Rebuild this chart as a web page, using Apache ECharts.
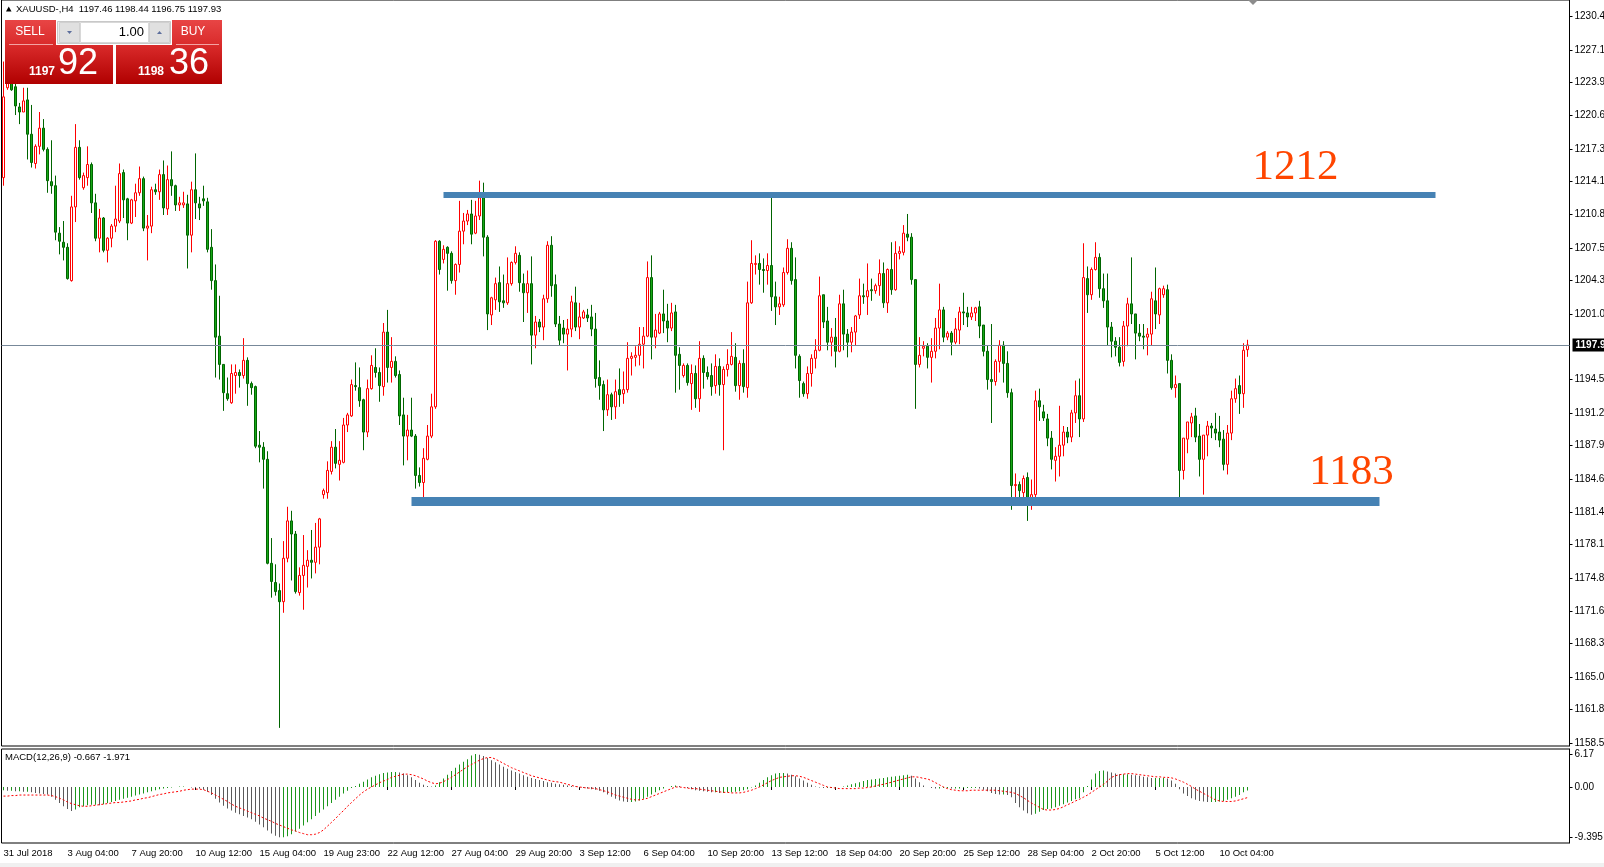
<!DOCTYPE html>
<html>
<head>
<meta charset="utf-8">
<script src="https://cdn.jsdelivr.net/npm/echarts@6/dist/echarts.min.js"></script>
<style>
html,body{margin:0;padding:0;background:#fff;}
#chart{width:1604px;height:867px;}
</style>
</head>
<body>
<div id="chart"></div>
<script>
// ---------------- DATA ----------------
const priceTicks = [1230.45,1227.15,1223.90,1220.65,1217.35,1214.10,1210.85,1207.55,1204.30,1201.00,1194.50,1191.20,1187.95,1184.65,1181.40,1178.15,1174.85,1171.60,1168.35,1165.05,1161.80,1158.50];
const macdTicks = [6.17, 0, -9.395];
const xTickLabels = ['31 Jul 2018','3 Aug 04:00','7 Aug 20:00','10 Aug 12:00','15 Aug 04:00','19 Aug 23:00','22 Aug 12:00','27 Aug 04:00','29 Aug 20:00','3 Sep 12:00','6 Sep 04:00','10 Sep 20:00','13 Sep 12:00','18 Sep 04:00','20 Sep 20:00','25 Sep 12:00','28 Sep 04:00','2 Oct 20:00','5 Oct 12:00','10 Oct 04:00'];

const opens = [
1214.5,1223.4,1226.3,1223.5,1221.5,1221.0,1222.2,1218.8,1215.9,1217.6,
1219.4,1217.3,1214.1,1213.7,1209.0,1208.1,1207.6,1204.3,1211.6,1217.5,
1213.5,1214.5,1215.8,1212.0,1208.5,1210.5,1207.3,1208.5,1209.7,1210.2,
1215.0,1212.4,1210.0,1212.2,1213.0,1214.4,1209.5,1209.7,1213.3,1213.1,
1214.8,1211.4,1214.3,1213.7,1211.8,1211.8,1211.9,1208.8,1213.3,1211.9,
1212.4,1212.1,1207.6,1204.3,1198.8,1196.0,1193.1,1192.2,1194.9,1195.2,
1194.9,1196.4,1194.1,1193.8,1188.0,1187.8,1186.6,1176.3,1174.4,1173.6,
1172.5,1176.8,1180.5,1179.2,1173.4,1175.1,1176.0,1176.6,1176.4,1177.9,
1183.1,1183.3,1185.4,1187.8,1186.1,1186.3,1190.0,1190.9,1193.9,1193.7,
1192.5,1189.3,1193.6,1195.7,1195.2,1193.8,1199.2,1195.7,1196.3,1195.0,
1191.0,1188.9,1189.5,1188.9,1185.0,1184.3,1186.6,1188.9,1191.8,1208.2,
1206.4,1207.6,1207.0,1204.3,1205.9,1209.2,1210.2,1210.9,1209.0,1210.7,
1212.5,1208.6,1200.9,1202.4,1204.1,1202.3,1202.1,1204.0,1206.1,1206.8,
1204.0,1203.1,1204.0,1198.9,1200.2,1199.7,1202.5,1207.8,1203.9,1200.0,
1199.6,1199.0,1199.5,1202.1,1199.7,1200.6,1200.9,1200.7,1199.5,1194.7,
1194.0,1191.5,1193.0,1191.8,1193.5,1193.1,1193.5,1196.6,1196.7,1196.9,
1198.0,1198.8,1204.6,1198.7,1199.1,1201.0,1200.3,1199.6,1201.2,1197.0,
1194.9,1195.9,1194.1,1195.1,1192.6,1196.6,1195.2,1194.9,1193.9,1195.8,
1194.0,1195.5,1196.0,1196.7,1193.9,1196.1,1193.7,1202.1,1205.9,1206.0,
1205.4,1205.3,1205.8,1202.7,1201.7,1201.9,1205.1,1207.5,1204.4,1196.8,
1194.1,1193.1,1195.1,1196.6,1197.4,1202.9,1200.3,1198.2,1198.7,1197.3,
1202.0,1199.0,1198.2,1199.2,1200.9,1202.8,1202.7,1203.4,1203.3,1203.8,
1205.0,1202.1,1205.4,1203.4,1207.0,1207.1,1208.9,1208.6,1204.4,1196.0,
1197.6,1197.8,1196.7,1197.3,1199.6,1201.4,1198.7,1199.1,1198.2,1199.4,
1201.2,1201.1,1200.7,1201.1,1201.7,1199.9,1197.3,1194.5,1194.3,1196.3,
1197.9,1196.1,1193.2,1184.0,1184.1,1183.3,1184.8,1182.5,1183.1,1192.4,
1191.3,1190.6,1188.7,1186.5,1186.9,1188.0,1189.3,1188.8,1191.2,1192.9,
1190.6,1204.5,1202.9,1205.4,1206.6,1203.5,1202.3,1199.7,1198.3,1197.7,
1196.3,1199.8,1202.0,1201.0,1199.1,1198.8,1198.7,1199.0,1202.3,1200.9,
1202.9,1203.4,1196.4,1193.7,1194.1,1185.5,1188.6,1190.2,1190.9,1188.9,
1186.6,1189.0,1189.9,1189.6,1189.3,1188.6,1186.1,1189.2,1192.6,1193.9,
1193.1,1197.46];
const highs = [
1226.0,1228.0,1227.0,1224.0,1221.9,1223.4,1223.4,1221.7,1217.8,1221.0,
1220.3,1217.5,1218.2,1214.7,1209.6,1210.2,1208.0,1212.7,1219.8,1218.2,
1215.0,1217.6,1216.0,1212.9,1211.4,1210.6,1208.6,1209.9,1213.7,1215.9,
1215.3,1212.5,1212.4,1213.9,1215.6,1214.6,1210.8,1213.6,1213.9,1215.3,
1216.2,1215.7,1217.1,1213.8,1212.6,1213.1,1212.8,1214.1,1216.9,1212.6,
1213.7,1212.5,1209.4,1205.9,1202.8,1196.0,1194.7,1196.0,1196.0,1195.5,
1198.6,1196.7,1194.3,1193.9,1189.4,1188.3,1187.4,1178.8,1176.2,1174.3,
1178.5,1181.9,1181.5,1179.5,1175.9,1179.1,1177.6,1179.6,1180.3,1180.8,
1183.7,1186.4,1188.4,1189.6,1188.4,1190.7,1191.2,1194.5,1196.2,1195.7,
1192.6,1194.5,1196.9,1197.6,1195.7,1200.1,1201.4,1198.7,1196.8,1195.4,
1192.7,1191.0,1192.7,1189.1,1185.8,1187.7,1190.0,1193.1,1208.3,1208.3,
1207.8,1207.7,1207.2,1206.0,1212.2,1211.0,1211.3,1212.3,1212.2,1214.2,
1214.0,1208.8,1202.7,1204.6,1205.7,1204.9,1206.6,1206.2,1207.7,1207.1,
1205.0,1205.3,1206.7,1200.8,1200.5,1202.9,1208.2,1208.7,1204.9,1200.8,
1200.4,1200.5,1202.8,1203.7,1202.1,1201.4,1201.5,1201.9,1201.1,1196.4,
1194.4,1194.5,1193.2,1194.5,1195.6,1195.3,1198.2,1197.2,1197.8,1199.7,
1199.7,1206.2,1206.8,1201.0,1201.2,1203.4,1202.0,1202.1,1201.9,1197.7,
1196.1,1196.1,1196.0,1195.9,1198.3,1196.9,1195.8,1196.1,1197.0,1196.6,
1195.8,1197.5,1199.2,1198.1,1196.4,1197.5,1204.2,1208.3,1206.8,1207.0,
1206.5,1207.0,1212.5,1204.2,1202.7,1205.6,1208.4,1208.1,1206.6,1197.0,
1194.3,1195.8,1197.0,1198.5,1204.7,1202.9,1201.7,1199.6,1200.6,1202.9,
1203.4,1199.5,1199.7,1200.9,1204.5,1204.0,1206.0,1204.5,1204.0,1206.4,
1206.1,1205.5,1208.1,1208.2,1207.7,1209.8,1210.9,1209.0,1204.4,1198.7,
1198.3,1198.1,1198.6,1200.6,1204.0,1201.7,1199.3,1199.3,1200.6,1201.7,
1203.1,1201.7,1201.7,1201.7,1202.3,1199.9,1197.9,1200.0,1196.5,1198.4,
1198.3,1197.3,1193.6,1185.2,1184.4,1185.0,1185.3,1184.6,1193.4,1193.6,
1192.0,1191.1,1189.4,1187.8,1191.9,1189.9,1189.8,1191.5,1194.4,1194.6,
1208.0,1205.7,1205.6,1208.1,1207.0,1205.0,1205.0,1200.2,1198.7,1198.7,
1200.3,1202.6,1206.6,1201.0,1200.0,1200.0,1199.6,1203.2,1205.6,1203.6,
1203.8,1203.9,1197.0,1194.9,1194.1,1188.7,1190.3,1191.2,1191.7,1190.1,
1189.0,1190.4,1190.2,1191.2,1190.9,1189.5,1190.0,1193.4,1194.6,1194.9,
1198.1,1198.44];
const lows = [
1213.7,1223.2,1223.1,1220.7,1219.8,1221.0,1216.3,1215.5,1215.4,1216.8,
1217.1,1213.0,1212.9,1208.3,1206.9,1206.3,1204.4,1204.2,1210.1,1214.3,
1213.3,1213.7,1211.0,1208.2,1207.1,1207.1,1206.1,1207.6,1209.1,1210.0,
1210.5,1208.3,1209.9,1210.6,1212.7,1209.2,1206.3,1209.0,1212.8,1212.3,
1210.8,1210.8,1212.7,1211.2,1211.2,1211.5,1205.5,1207.1,1210.4,1210.3,
1211.7,1207.1,1203.4,1194.7,1194.5,1191.4,1192.4,1192.1,1193.1,1193.7,
1194.6,1191.9,1193.0,1187.7,1186.3,1183.7,1176.2,1172.9,1173.1,1160.0,
1171.4,1176.4,1174.6,1173.3,1173.1,1171.7,1173.9,1174.8,1175.3,1176.2,
1182.7,1182.7,1185.1,1185.7,1184.5,1186.2,1189.3,1190.8,1193.4,1191.8,
1187.5,1188.8,1193.5,1194.7,1192.3,1192.9,1194.2,1194.2,1194.7,1190.0,
1186.0,1186.5,1188.8,1183.7,1183.9,1182.8,1186.5,1188.7,1191.6,1204.9,
1206.0,1203.3,1204.0,1202.9,1205.1,1207.9,1209.8,1207.9,1208.9,1210.3,
1206.7,1199.4,1199.9,1201.4,1201.2,1201.6,1201.9,1203.8,1205.9,1203.2,
1200.2,1201.1,1196.0,1197.6,1199.2,1198.4,1202.1,1202.7,1199.7,1197.9,
1198.1,1195.4,1198.7,1199.3,1198.5,1200.5,1200.2,1198.8,1193.7,1192.5,
1189.4,1190.9,1190.5,1190.6,1191.8,1192.1,1193.2,1194.9,1195.8,1195.9,
1195.6,1198.7,1196.5,1197.6,1199.0,1199.1,1198.2,1199.3,1193.2,1193.5,
1194.7,1193.9,1191.5,1191.7,1191.3,1193.6,1194.5,1192.9,1193.1,1192.9,
1187.5,1194.8,1195.9,1193.3,1192.5,1193.2,1192.7,1202.0,1204.9,1203.9,
1203.1,1203.9,1201.3,1199.9,1200.9,1201.7,1204.9,1203.9,1195.6,1192.7,
1192.8,1192.6,1193.8,1195.6,1197.3,1199.6,1197.4,1196.8,1195.7,1197.2,
1197.4,1196.7,1197.2,1197.9,1200.5,1202.0,1200.9,1202.3,1203.0,1202.8,
1201.6,1201.1,1202.9,1203.3,1206.4,1206.8,1208.2,1203.9,1191.6,1195.7,
1196.8,1195.6,1194.2,1196.6,1197.5,1198.2,1198.4,1196.9,1198.0,1198.0,
1199.9,1199.7,1200.4,1200.3,1198.6,1196.8,1193.5,1190.2,1193.9,1195.2,
1194.2,1192.7,1181.6,1182.7,1182.1,1182.5,1180.5,1181.6,1182.2,1190.4,
1190.4,1187.9,1185.6,1184.4,1184.9,1186.9,1188.2,1188.3,1190.2,1188.8,
1190.3,1201.1,1202.4,1205.3,1202.6,1201.6,1197.9,1196.7,1196.8,1195.8,
1195.8,1197.8,1200.0,1196.5,1198.3,1197.5,1196.9,1197.9,1199.5,1200.0,
1202.6,1195.1,1193.5,1192.7,1182.7,1184.6,1187.2,1188.8,1188.3,1184.9,
1183.1,1186.9,1188.7,1188.5,1187.8,1185.5,1185.1,1188.5,1192.2,1191.1,
1191.7,1196.75];
const closes = [
1222.5,1226.5,1223.2,1221.6,1221.0,1222.1,1218.8,1216.0,1217.6,1219.4,
1217.3,1214.2,1213.7,1209.1,1208.2,1207.6,1204.5,1211.6,1217.5,1214.5,
1214.7,1215.8,1212.0,1208.5,1210.5,1207.3,1208.5,1209.7,1210.4,1214.9,
1212.3,1210.0,1212.3,1213.0,1214.4,1209.5,1209.7,1213.3,1213.1,1214.8,
1211.5,1214.3,1213.7,1211.8,1212.0,1212.0,1208.8,1213.3,1212.0,1211.5,
1212.2,1207.4,1204.3,1198.7,1196.0,1193.2,1192.6,1195.1,1195.2,1194.9,
1196.4,1194.1,1193.7,1187.9,1187.8,1186.6,1176.3,1174.5,1173.5,1172.5,
1176.8,1180.5,1179.2,1173.5,1175.1,1176.1,1176.6,1176.4,1177.9,1180.7,
1183.5,1185.5,1187.8,1186.2,1186.5,1190.0,1191.0,1194.0,1193.8,1192.4,
1189.3,1193.6,1195.9,1195.2,1193.9,1199.2,1195.7,1196.3,1194.9,1190.9,
1188.9,1189.5,1188.9,1185.0,1184.3,1186.7,1188.9,1191.8,1208.2,1205.4,
1207.4,1207.0,1204.3,1205.9,1209.2,1210.2,1210.9,1208.9,1210.7,1212.5,
1208.6,1201.0,1202.6,1204.0,1202.2,1202.1,1204.0,1206.1,1207.0,1204.1,
1203.1,1204.0,1198.9,1200.2,1199.7,1202.5,1207.8,1203.8,1200.0,1198.4,
1199.0,1199.5,1202.2,1199.7,1200.7,1201.2,1200.6,1199.5,1194.6,1193.9,
1191.5,1193.0,1191.8,1193.3,1193.0,1193.5,1196.6,1196.8,1196.9,1198.0,
1198.8,1204.6,1198.7,1199.4,1201.0,1200.3,1199.6,1201.1,1196.9,1195.9,
1195.9,1194.2,1195.1,1192.6,1196.6,1195.2,1194.8,1193.8,1195.8,1194.0,
1195.5,1196.0,1196.8,1193.9,1196.1,1193.8,1202.1,1206.0,1206.0,1205.4,
1205.3,1205.8,1202.7,1201.7,1202.0,1205.1,1207.5,1204.3,1196.9,1194.4,
1193.1,1195.1,1196.6,1197.4,1202.8,1200.2,1198.2,1198.7,1197.3,1202.0,
1199.0,1198.2,1199.2,1200.8,1202.8,1202.7,1203.3,1203.3,1203.8,1205.0,
1202.1,1205.4,1203.4,1207.0,1207.2,1209.0,1208.6,1204.4,1196.0,1196.9,
1197.8,1196.7,1197.3,1199.6,1201.4,1198.7,1199.1,1198.2,1199.5,1201.2,
1201.1,1200.7,1201.1,1201.6,1199.8,1197.3,1194.5,1194.3,1196.3,1197.9,
1196.1,1193.2,1184.0,1184.1,1183.5,1184.7,1182.5,1183.1,1192.4,1191.8,
1190.7,1188.7,1186.6,1186.9,1188.0,1189.3,1188.8,1191.2,1192.9,1190.6,
1204.6,1202.9,1205.4,1206.6,1203.5,1202.3,1199.7,1198.3,1197.7,1196.2,
1199.8,1202.0,1201.0,1199.1,1198.8,1198.7,1199.0,1202.5,1201.0,1203.5,
1203.5,1196.4,1193.7,1194.0,1185.5,1188.7,1190.3,1190.8,1188.8,1186.6,
1189.0,1189.9,1189.7,1189.2,1188.5,1186.1,1189.2,1192.6,1193.6,1193.1,
1197.4,1197.93];

const macdHist = [
-0.6,-0.7,-0.7,-0.8,-0.8,-0.9,-0.9,-1.0,-1.1,-1.2,
-1.3,-1.4,-1.8,-2.4,-3.0,-3.6,-4.1,-4.5,-4.2,-3.8,
-3.6,-3.4,-3.3,-3.3,-3.4,-3.2,-3.0,-2.8,-2.6,-2.4,
-2.2,-2.0,-1.8,-1.6,-1.4,-1.2,-1.0,-0.8,-0.6,-0.4,
-0.3,-0.2,-0.1,0.0,0.1,0.1,0.0,-0.1,-0.2,-0.3,
-0.5,-0.9,-1.5,-2.2,-2.9,-3.5,-4.0,-4.4,-4.8,-5.1,
-5.4,-5.7,-6.0,-6.5,-7.0,-7.5,-8.1,-8.7,-9.1,-9.4,
-9.395,-9.2,-8.8,-8.3,-7.8,-7.2,-6.6,-6.0,-5.4,-4.8,
-4.2,-3.6,-3.0,-2.4,-1.8,-1.2,-0.7,-0.2,0.2,0.6,
1.0,1.4,1.8,2.1,2.4,2.6,2.7,2.8,2.8,2.7,
2.5,2.2,1.8,1.3,0.8,0.4,0.2,0.1,0.3,0.9,
1.6,2.3,3.0,3.6,4.2,4.7,5.2,5.9,6.17,6.0,
5.8,5.4,5.0,4.6,4.2,3.8,3.4,3.1,2.8,2.5,
2.2,1.9,1.7,1.5,1.3,1.1,0.9,0.8,0.6,0.5,
0.4,0.3,0.2,0.1,-0.1,-0.2,-0.3,-0.4,-0.5,-0.7,
-1.0,-1.4,-1.8,-2.2,-2.5,-2.7,-2.8,-2.8,-2.7,-2.5,
-2.2,-1.8,-1.4,-1.0,-0.6,-0.3,0.0,0.2,0.3,0.2,
0.0,-0.2,-0.4,-0.6,-0.7,-0.8,-0.9,-1.0,-1.0,-1.1,
-1.1,-1.0,-1.0,-0.9,-0.8,-0.6,-0.4,-0.1,0.3,0.8,
1.3,1.8,2.2,2.5,2.6,2.6,2.5,2.3,2.0,1.6,
1.2,0.8,0.4,0.1,-0.1,-0.2,-0.2,-0.2,-0.1,0.0,
0.1,0.3,0.5,0.7,0.9,1.1,1.3,1.4,1.5,1.6,
1.7,1.8,1.9,2.0,2.1,2.2,2.3,2.1,1.6,0.9,
0.3,0.0,-0.2,-0.3,-0.3,-0.2,-0.2,-0.3,-0.3,-0.3,
-0.2,-0.2,-0.2,-0.2,-0.3,-0.5,-0.8,-1.1,-1.3,-1.4,
-1.4,-1.5,-1.9,-3.0,-3.8,-4.4,-4.9,-5.2,-5.0,-4.6,
-4.3,-4.1,-4.0,-3.8,-3.5,-3.2,-2.9,-2.6,-2.3,-2.1,
-1.0,0.2,1.4,2.5,3.0,3.1,2.9,2.7,2.5,2.4,
2.4,2.4,2.3,2.2,2.1,1.9,1.8,1.7,1.7,1.7,
1.7,1.6,1.2,0.6,-0.4,-1.2,-1.7,-2.1,-2.4,-2.6,
-2.7,-2.8,-2.8,-2.8,-2.7,-2.6,-2.4,-2.1,-1.8,-1.5,
-1.0,-0.667];
const macdSignal = [
-1.7,-1.7,-1.6,-1.6,-1.5,-1.5,-1.5,-1.5,-1.5,-1.5,
-1.5,-1.5,-1.6,-1.8,-2.1,-2.4,-2.8,-3.1,-3.3,-3.5,
-3.6,-3.6,-3.5,-3.4,-3.3,-3.2,-3.1,-3.0,-2.9,-2.9,
-2.8,-2.7,-2.6,-2.4,-2.3,-2.1,-2.0,-1.8,-1.6,-1.4,
-1.3,-1.1,-1.0,-0.9,-0.8,-0.6,-0.5,-0.4,-0.4,-0.4,
-0.5,-0.8,-1.1,-1.5,-1.9,-2.3,-2.7,-3.2,-3.6,-3.9,
-4.2,-4.5,-4.8,-5.1,-5.4,-5.8,-6.1,-6.4,-6.8,-7.1,
-7.4,-7.7,-8.0,-8.2,-8.5,-8.7,-8.9,-8.9,-8.8,-8.5,
-8.0,-7.3,-6.6,-5.9,-5.1,-4.4,-3.6,-2.9,-2.2,-1.5,
-0.9,-0.4,0.0,0.4,0.8,1.1,1.4,1.8,2.0,2.2,
2.4,2.4,2.3,2.1,1.8,1.5,1.1,0.8,0.6,0.7,
1.0,1.4,1.8,2.3,2.8,3.3,3.8,4.2,4.6,5.0,
5.3,5.5,5.5,5.2,4.8,4.4,4.0,3.6,3.3,3.0,
2.7,2.4,2.1,1.9,1.7,1.5,1.3,1.1,1.0,0.9,
0.7,0.5,0.3,0.1,0.0,-0.1,-0.2,-0.2,-0.3,-0.5,
-0.7,-0.9,-1.2,-1.5,-1.7,-1.9,-2.1,-2.3,-2.4,-2.4,
-2.3,-2.1,-1.8,-1.5,-1.2,-0.9,-0.6,-0.3,0.0,0.0,
-0.1,-0.2,-0.3,-0.3,-0.4,-0.5,-0.6,-0.7,-0.8,-0.9,
-1.0,-1.0,-1.1,-1.1,-1.1,-1.0,-0.8,-0.6,-0.3,0.0,
0.4,0.8,1.2,1.5,1.8,1.9,2.0,2.1,2.1,2.0,
1.8,1.5,1.2,0.9,0.6,0.3,0.0,-0.1,-0.2,-0.3,
-0.3,-0.3,-0.3,-0.3,-0.2,-0.2,-0.1,0.0,0.2,0.4,
0.5,0.7,0.9,1.1,1.3,1.5,1.7,1.9,1.9,1.8,
1.6,1.5,1.2,0.8,0.4,0.0,-0.3,-0.5,-0.6,-0.7,
-0.7,-0.7,-0.6,-0.6,-0.6,-0.6,-0.6,-0.6,-0.6,-0.7,
-0.8,-0.9,-1.0,-1.2,-1.6,-2.0,-2.5,-3.0,-3.4,-3.8,
-4.2,-4.3,-4.3,-4.2,-4.0,-3.7,-3.3,-3.0,-2.6,-2.3,
-1.9,-1.5,-1.0,-0.5,0.0,0.5,1.1,1.8,2.1,2.3,
2.4,2.5,2.5,2.4,2.3,2.2,2.1,2.0,1.9,1.9,
1.8,1.8,1.7,1.5,1.2,0.9,0.5,0.1,-0.4,-0.8,
-1.2,-1.6,-2.0,-2.4,-2.6,-2.7,-2.7,-2.7,-2.6,-2.4,
-2.2,-1.971];

const bidPrice = 1197.93;
const resistanceLevel = 1212.78;
const supportLevel = 1182.42;
const resistanceSpan = [110, 358];
const supportSpan = [102, 344];
const levelLabels = [
  {name: '1212', coord: [323, 1215.5]},
  {name: '1183', coord: [337, 1185.25]}
];

// ---------------- BUILD ----------------
const N_SLOTS = 392;
const TICK_STEP = 16;
const categories = [];
for (let i = 0; i < N_SLOTS; i++) {
  const k = i / TICK_STEP;
  categories.push(i % TICK_STEP === 0 && k < xTickLabels.length ? xTickLabels[k] : '');
}
const candleData = opens.map((o, i) => [o, closes[i], lows[i], highs[i]]);
const histData = macdHist.map((v, i) => ({
  value: v,
  itemStyle: {color: (i > 0 && v < macdHist[i - 1]) ? '#5a5a5a' : '#1c961c'}
}));

const FONT = '"Liberation Sans", Arial, sans-serif';
const chart = echarts.init(document.getElementById('chart'), null, {renderer: 'canvas'});

const option = {
  animation: false,
  backgroundColor: '#ffffff',
  grid: [
    {left: 1.5, top: 0, width: 1568, height: 746, show: true, borderColor: '#000', borderWidth: 1, backgroundColor: 'transparent', outerBoundsMode: 'none', containLabel: false},
    {left: 1.5, top: 749, width: 1568, height: 94, show: true, borderColor: '#000', borderWidth: 1, backgroundColor: 'transparent', outerBoundsMode: 'none', containLabel: false}
  ],
  xAxis: [
    {type: 'category', gridIndex: 0, data: categories, boundaryGap: true,
     axisLine: {show: false}, axisTick: {show: false}, axisLabel: {show: false}, splitLine: {show: false}},
    {type: 'category', gridIndex: 1, data: categories, boundaryGap: true,
     axisLine: {show: false},
     axisTick: {show: true, alignWithLabel: true, length: 3, interval: (idx, val) => val !== '', lineStyle: {color: '#000'}},
     axisLabel: {show: true, interval: (idx, val) => val !== '', align: 'left', margin: 5,
                 fontFamily: FONT, fontSize: 9.5, color: '#000'},
     splitLine: {show: false}}
  ],
  yAxis: [
    {type: 'value', gridIndex: 0, position: 'right', min: 1158.205, max: 1232.094,
     axisLine: {show: true, lineStyle: {color: '#000'}},
     axisTick: {show: true, length: 3, customValues: priceTicks, lineStyle: {color: '#000'}},
     axisLabel: {show: true, customValues: priceTicks, formatter: v => v.toFixed(2), margin: 5,
                 fontFamily: FONT, fontSize: 10, color: '#000'},
     splitLine: {show: false}},
    {type: 'value', gridIndex: 1, position: 'right', min: -10.45, max: 7.09,
     axisLine: {show: true, lineStyle: {color: '#000'}},
     axisTick: {show: true, length: 3, customValues: macdTicks, lineStyle: {color: '#000'}},
     axisLabel: {show: true, customValues: macdTicks, formatter: v => (v === 0 ? '0.00' : String(v)), margin: 5,
                 fontFamily: FONT, fontSize: 10, color: '#000'},
     splitLine: {show: false}}
  ],
  series: [
    {
      type: 'candlestick', xAxisIndex: 0, yAxisIndex: 0, data: candleData,
      barWidth: 2,
      itemStyle: {color: '#ffffff', color0: '#16a816', borderColor: '#ff0000', borderColor0: '#006400', borderWidth: 1},
      markLine: {
        silent: true, symbol: ['none', 'none'], animation: false,
        data: [
          {yAxis: bidPrice, lineStyle: {color: '#778899', width: 1, type: 'solid'},
           label: {show: true, position: 'end', distance: 3, formatter: bidPrice.toFixed(2),
                   backgroundColor: '#000', color: '#fff', fontFamily: FONT, fontSize: 10, fontWeight: 'bold', padding: [2, 3, 1, 3]}},
          [{coord: [resistanceSpan[0], resistanceLevel], lineStyle: {color: '#4682b4', width: 6, type: 'solid'}, label: {show: false}},
           {coord: [resistanceSpan[1], resistanceLevel]}],
          [{coord: [supportSpan[0], supportLevel], lineStyle: {color: '#4682b4', width: 9, type: 'solid'}, label: {show: false}},
           {coord: [supportSpan[1], supportLevel]}]
        ]
      },
      markPoint: {
        silent: true, symbol: 'circle', symbolSize: 0, animation: false,
        data: levelLabels.map(d => ({name: d.name, coord: d.coord})),
        label: {show: true, position: 'inside', formatter: '{b}', fontFamily: '"Liberation Serif", "Times New Roman", serif',
                fontSize: 43, color: '#ff4500'}
      }
    },
    {
      type: 'bar', xAxisIndex: 1, yAxisIndex: 1, data: histData, barWidth: 1, silent: true
    },
    {
      type: 'line', xAxisIndex: 1, yAxisIndex: 1, data: macdSignal, symbol: 'none', silent: true,
      lineStyle: {color: '#ff0000', width: 1, type: [2, 2]}
    }
  ],
  graphic: [
    // header
    {type: 'polygon', shape: {points: [[6, 11.5], [11.5, 11.5], [8.75, 6.5]]}, style: {fill: '#000'}, z: 100},
    {type: 'text', x: 16, y: 9, z: 100, style: {text: 'XAUUSD-,H4  1197.46 1198.44 1196.75 1197.93', font: '9.5px ' + FONT, fill: '#000', verticalAlign: 'middle', textVerticalAlign: 'middle'}},
    // one-click trading panel
    {type: 'rect', z: 100, shape: {x: 5, y: 20, width: 108, height: 64},
     style: {fill: new echarts.graphic.LinearGradient(0, 0, 0, 1, [{offset: 0, color: '#e84545'}, {offset: 0.4, color: '#d92a2a'}, {offset: 1, color: '#b00000'}])}},
    {type: 'rect', z: 100, shape: {x: 116, y: 20, width: 106, height: 64},
     style: {fill: new echarts.graphic.LinearGradient(0, 0, 0, 1, [{offset: 0, color: '#e84545'}, {offset: 0.4, color: '#d92a2a'}, {offset: 1, color: '#b00000'}])}},
    {type: 'rect', z: 101, shape: {x: 56, y: 20, width: 116, height: 25}, style: {fill: '#ffffff'}},
    {type: 'rect', z: 102, shape: {x: 57.5, y: 21.5, width: 113, height: 22}, style: {fill: '#ececec', stroke: '#c8c8c8', lineWidth: 1}},
    {type: 'rect', z: 103, shape: {x: 59.5, y: 22.5, width: 20, height: 20}, style: {fill: '#e0e0e0', stroke: '#d0d0d0'}},
    {type: 'rect', z: 103, shape: {x: 149.5, y: 22.5, width: 20, height: 20}, style: {fill: '#e0e0e0', stroke: '#d0d0d0'}},
    {type: 'rect', z: 103, shape: {x: 80.5, y: 22.5, width: 68, height: 20}, style: {fill: '#ffffff', stroke: '#d8d8d8'}},
    {type: 'polygon', z: 104, shape: {points: [[67, 31], [72, 31], [69.5, 34]]}, style: {fill: '#5c6e9c'}},
    {type: 'polygon', z: 104, shape: {points: [[157, 34], [162, 34], [159.5, 31]]}, style: {fill: '#5c6e9c'}},
    {type: 'text', z: 104, x: 144, y: 32.5, style: {text: '1.00', font: '13px ' + FONT, fill: '#000', align: 'right', textAlign: 'right', verticalAlign: 'middle', textVerticalAlign: 'middle'}},
    {type: 'text', z: 104, x: 30, y: 32, style: {text: 'SELL', font: '12px ' + FONT, fill: '#ffffff', align: 'center', textAlign: 'center', verticalAlign: 'middle', textVerticalAlign: 'middle'}},
    {type: 'text', z: 104, x: 193, y: 32, style: {text: 'BUY', font: '12px ' + FONT, fill: '#ffffff', align: 'center', textAlign: 'center', verticalAlign: 'middle', textVerticalAlign: 'middle'}},
    {type: 'line', z: 104, shape: {x1: 9, y1: 44.5, x2: 53, y2: 44.5}, style: {stroke: '#f3a3a3', lineWidth: 1}},
    {type: 'line', z: 104, shape: {x1: 176, y1: 44.5, x2: 219, y2: 44.5}, style: {stroke: '#f3a3a3', lineWidth: 1}},
    {type: 'text', z: 104, x: 29, y: 71.5, style: {text: '1197', font: 'bold 12px ' + FONT, fill: '#ffffff', verticalAlign: 'middle', textVerticalAlign: 'middle'}},
    {type: 'text', z: 104, x: 58, y: 64, style: {text: '92', font: '36px ' + FONT, fill: '#ffffff', verticalAlign: 'middle', textVerticalAlign: 'middle'}},
    {type: 'text', z: 104, x: 138, y: 71.5, style: {text: '1198', font: 'bold 12px ' + FONT, fill: '#ffffff', verticalAlign: 'middle', textVerticalAlign: 'middle'}},
    {type: 'text', z: 104, x: 169, y: 64, style: {text: '36', font: '36px ' + FONT, fill: '#ffffff', verticalAlign: 'middle', textVerticalAlign: 'middle'}},
    // MACD caption
    {type: 'text', z: 100, x: 5, y: 757, style: {text: 'MACD(12,26,9) -0.667 -1.971', font: '9.5px ' + FONT, fill: '#000', verticalAlign: 'middle', textVerticalAlign: 'middle'}},
    // chart shift marker
    {type: 'polygon', z: 100, shape: {points: [[1248, 0], [1258, 0], [1253, 5]]}, style: {fill: '#8c8c8c'}},
    // bottom strip
    {type: 'rect', z: 0, shape: {x: 0, y: 863, width: 1604, height: 4}, style: {fill: '#f0f0f0'}}
  ]
};
chart.setOption(option);
</script>
</body>
</html>
